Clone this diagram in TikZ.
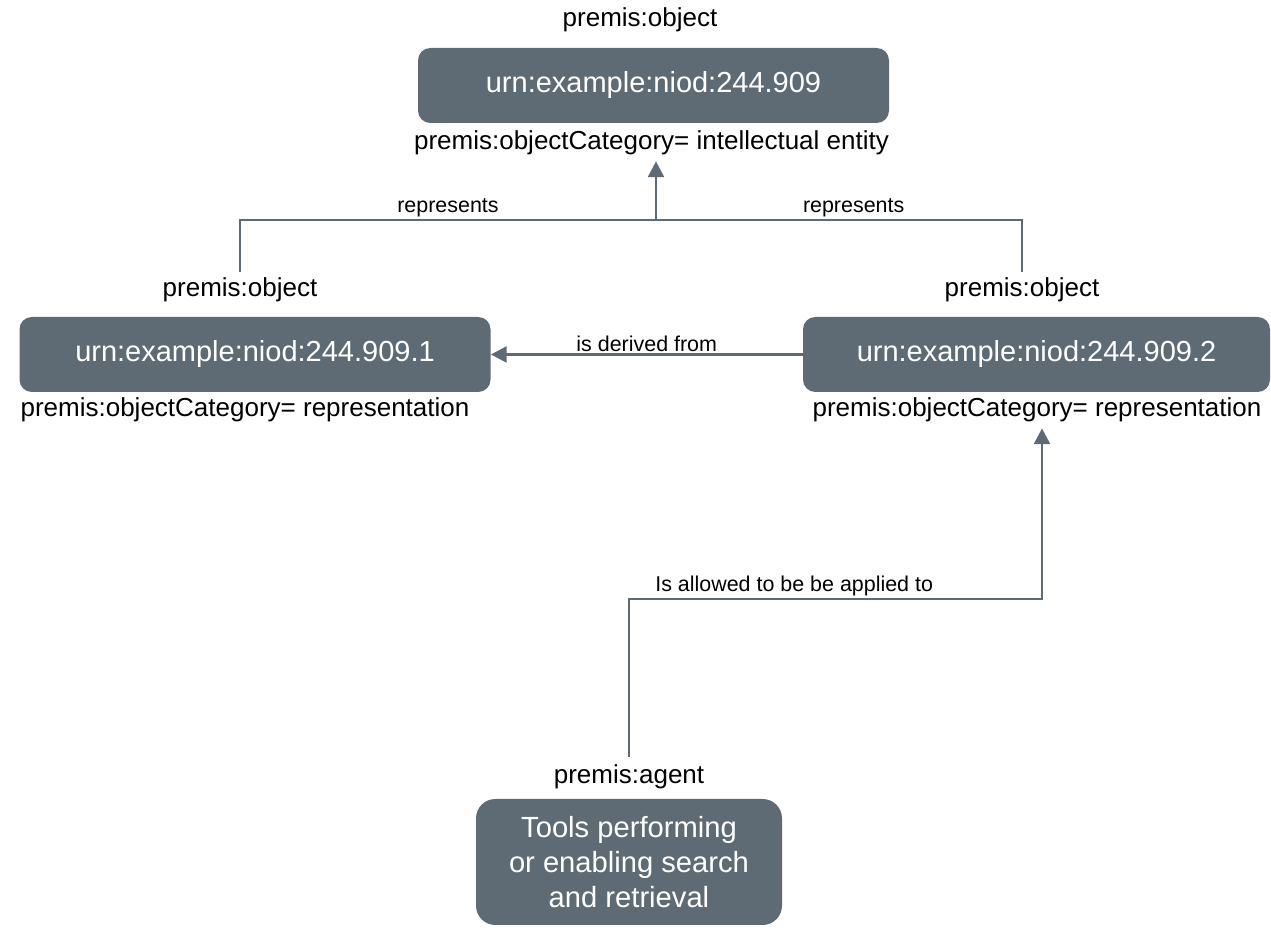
\documentclass[tikz,border=0pt]{standalone}
\usepackage{fontspec}
\setmainfont{Liberation Sans}
\usetikzlibrary{arrows.meta}
\definecolor{slate}{RGB}{95,107,116}

\begin{document}
\begin{tikzpicture}[
  obj/.style={fill=slate, text=white, rounded corners=7pt, minimum width=9.42cm, minimum height=1.5cm, font=\fontsize{16.5}{20}\selectfont},
  tag/.style={font=\fontsize{14.8}{18}\selectfont},
  rel/.style={inner sep=1pt, font=\fontsize{12.2}{15}\selectfont},
  link/.style={draw=slate, line width=1.6pt},
  tip/.style={-{Triangle[width=9pt,length=9pt]}}
]

  \useasboundingbox (0,0) rectangle (25.42,-18.66);

  % Intellectual entity
  \node[obj] (ie) at (13.07,-1.71) {urn:example:niod:244.909};
  \node[tag] (ielab) at (12.8,-0.4) {premis:object};
  \node[tag] (iecat) at (13.03,-2.86) {premis:objectCategory= intellectual entity};

  % Representation 1
  \node[obj] (rep1) at (5.1,-7.09) {urn:example:niod:244.909.1};
  \node[tag] (rep1lab) at (4.8,-5.8) {premis:object};
  \node[tag] (rep1cat) at (4.9,-8.2) {premis:objectCategory= representation};

  % Representation 2
  \node[obj, minimum width=9.34cm] (rep2) at (20.73,-7.09) {urn:example:niod:244.909.2};
  \node[tag] (rep2lab) at (20.44,-5.8) {premis:object};
  \node[tag] (rep2cat) at (20.74,-8.2) {premis:objectCategory= representation};

  % Agent
  \node[obj, minimum width=6.12cm, minimum height=2.52cm, rounded corners=11pt, align=center,
        font=\fontsize{16.6}{20}\selectfont] (agent) at (12.58,-17.24) {Tools performing\\or enabling search\\and retrieval};
  \node[tag] (agentlab) at (12.58,-15.54) {premis:agent};

  % represents
  \coordinate (hub) at (13.12,-4.4);
  \draw[link] (rep1lab.north) |- (hub) node[rel, pos=0.75, above] {represents};
  \draw[link] (rep2lab.north) |- (hub) node[rel, pos=0.73, above] {represents};
  \draw[link, tip] (hub) -- (hub |- iecat.south);

  % is derived from
  \draw[link, tip] (rep2.west) -- (rep1.east) node[rel, midway, above] {is derived from};

  % applied to
  \coordinate (agtop) at (12.58,-15.14);
  \coordinate (bend) at (12.58,-11.98);
  \draw[link, tip] (agtop) -- (bend) -| ([xshift=1mm]rep2cat.south) node[rel, pos=0.2, above] {Is allowed to be be applied to};

\end{tikzpicture}
\end{document}
